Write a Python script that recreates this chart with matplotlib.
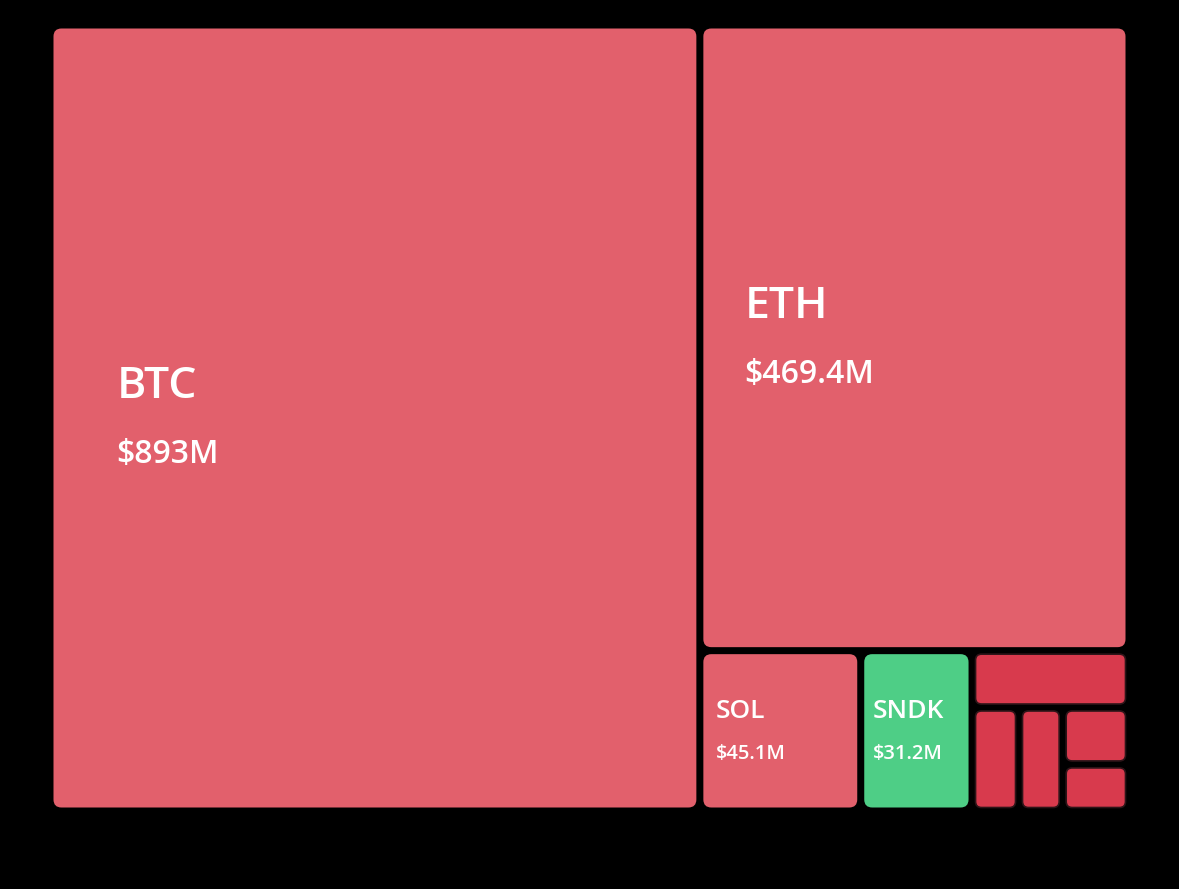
import matplotlib.pyplot as plt
from matplotlib.patches import FancyBboxPatch

# Datos (millones de USD)
names = ['BTC', 'ETH', 'SOL', 'SNDK']
values = [893.0, 469.4, 45.1, 31.2]
labels = ['$893M', '$469.4M', '$45.1M', '$31.2M']
colors = ['#E2606C', '#E2606C', '#E2606C', '#4ECE86']
# pequeños sin etiqueta
small_top = 15.6
small_cols = [8.5, 7.9]
small_last = [6.6, 5.4]

small_color = '#D83A4D'
W, H = 1179, 889
x0, y0, x1, y1 = 50, 25, 1129, 811
gap = 7


def split(rect, vals, horizontal):
    # divide el rectangulo segun los valores
    x, y, w, h = rect
    tot = sum(vals)
    out = []
    pos = x if horizontal else y
    for v in vals:
        if horizontal:
            d = w * v / tot
            out.append((pos, y, d, h))
        else:
            d = h * v / tot
            out.append((x, pos, w, d))
        pos += d
    return out


small_total = small_top + sum(small_cols) + sum(small_last)
full = (x0, y0, x1 - x0, y1 - y0)
r_btc, r_rest = split(full, [values[0], sum(values[1:]) + small_total], True)
r_eth, r_bottom = split(r_rest, [values[1], values[2] + values[3] + small_total], False)
r_sol, r_sndk, r_small = split(r_bottom, [values[2], values[3], small_total], True)
r_stop, r_srest = split(r_small, [small_top, sum(small_cols) + sum(small_last)], False)
r_cols = split(r_srest, small_cols + [sum(small_last)], True)
r_last = split(r_cols[-1], small_last, False)

main_rects = [r_btc, r_eth, r_sol, r_sndk]
small_rects = [r_stop] + r_cols[:-1] + r_last

fig = plt.figure(figsize=(W / 100, H / 100), dpi=100, facecolor='black')
ax = fig.add_axes([0, 0, 1, 1])
ax.set_xlim(0, W)
ax.set_ylim(H, 0)
ax.set_facecolor('black')
ax.axis('off')


def draw(rect, color, rad, edge=None):
    x, y, w, h = rect
    x += gap / 2
    y += gap / 2
    w -= gap
    h -= gap
    p = FancyBboxPatch((x + rad, y + rad), w - 2 * rad, h - 2 * rad,
                       boxstyle=f'round,pad={rad}', fc=color,
                       ec=edge if edge else 'none', lw=1.2)
    ax.add_patch(p)
    return x, y, w, h


for rect, c, n, lab, v in zip(main_rects, colors, names, labels, values):
    x, y, w, h = draw(rect, c, 8)
    cy = y + h / 2
    big = v > 100
    cap = 32 if big else 20
    fs1 = 32 if big else 19
    fs2 = 23 if big else 14.5
    tx = x + w * (0.098 if big else 0.082)
    ax.text(tx, cy - 0.62 * cap, n, color='white', fontsize=fs1,
            family='Open Sans', fontweight='semibold', va='baseline', ha='left')
    ax.text(tx, cy + 1.4 * cap, lab, color='white', fontsize=fs2,
            family='Open Sans', fontweight='semibold', va='baseline', ha='left')

for rect in small_rects:
    draw(rect, small_color, 6, edge='#2e1519')

fig.savefig('out.png', dpi=100, facecolor='black')
